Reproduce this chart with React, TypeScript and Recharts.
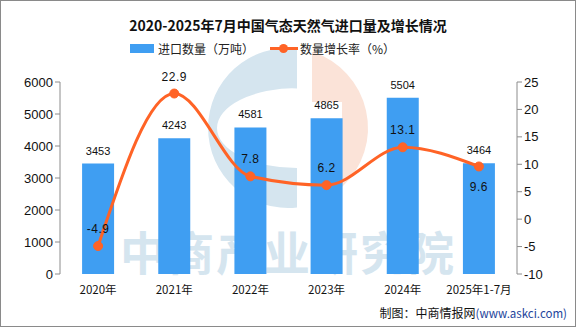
import React from 'react';
import { ComposedChart, Bar, Line, XAxis, YAxis, LabelList } from 'recharts';

const categories = ['2020年', '2021年', '2022年', '2023年', '2024年', '2025年1-7月'];
const importVolume = [3453, 4243, 4581, 4865, 5504, 3464];
const growthRate = [-4.9, 22.9, 7.8, 6.2, 13.1, 9.6];
const rateLabelBelow = [false, false, false, false, false, true];
const leftTicks = [0, 1000, 2000, 3000, 4000, 5000, 6000];
const rightTicks = [-10, -5, 0, 5, 10, 15, 20, 25];
const boundaryTicks = [0, 1, 2, 3, 4, 5, 6];

const title = '2020-2025年7月中国气态天然气进口量及增长情况';
const barName = '进口数量（万吨）';
const lineName = '数量增长率（%）';
const watermark = '中商产业研究院';

const data = categories.map((c, i) => ({ name: c, volume: importVolume[i], rate: growthRate[i] }));

const BAR = '#3f9ef2';
const LINE = '#ff6326';
const AXIS = '#8c8c8c';
const FONT = '"Liberation Sans", "Noto Sans CJK SC", sans-serif';

const RateLabel = (props: any) => {
  const { x, y, value, index } = props;
  const below = rateLabelBelow[index];
  return (
    <text
      x={x}
      y={below ? y + 25 : y - 13}
      textAnchor="middle"
      fontSize={12}
      fill="#111"
      fontFamily={FONT}
      letterSpacing={0.5}
    >
      {value}
    </text>
  );
};

export default function App() {
  return (
    <div
      style={{
        position: 'absolute',
        left: 0,
        top: 0,
        width: 576,
        height: 327,
        boxSizing: 'border-box',
        border: '1px solid #8a8a8a',
        background: '#fff',
        fontFamily: FONT,
        overflow: 'hidden',
      }}
    >
      <svg width={576} height={327} style={{ position: 'absolute', left: -1, top: -1 }}>
        <path
          d="M297,48.5 A80,80 0 1 0 297,207.5 Z M297,88 A80,40 0 1 0 297,168 Z"
          fill="#d5e5ef"
          fillRule="evenodd"
        />
        <path d="M312,51.7 A80,80 0 0 1 342,187 L342,102 L312,102 Z" fill="#fbe3d8" />
        <text
          x={288}
          y={270}
          textAnchor="middle"
          fontSize={46}
          fontWeight={700}
          fill="#d5e5ef"
          fontFamily='"Noto Sans CJK SC", sans-serif'
          letterSpacing={2}
        >
          {watermark}
        </text>
      </svg>
      <div
        style={{
          position: 'absolute',
          left: -1,
          top: 14,
          width: 576,
          textAlign: 'center',
          fontSize: 14,
          fontWeight: 700,
          fontFamily: '"Noto Sans CJK SC", sans-serif',
          color: '#111',
          lineHeight: '20px',
        }}
      >
        {title}
      </div>
      <div style={{ position: 'absolute', left: 129, top: 43, width: 24, height: 9, background: BAR }} />
      <div
        style={{
          position: 'absolute',
          left: 157,
          top: 40,
          fontSize: 12,
          lineHeight: '16px',
          color: '#222',
          fontFamily: '"Noto Sans CJK SC", sans-serif',
        }}
      >
        {barName}
      </div>
      <div style={{ position: 'absolute', left: 269, top: 46, width: 28, height: 3, background: LINE }} />
      <div
        style={{
          position: 'absolute',
          left: 278,
          top: 43,
          width: 9,
          height: 9,
          borderRadius: 5,
          background: LINE,
        }}
      />
      <div
        style={{
          position: 'absolute',
          left: 299,
          top: 40,
          fontSize: 12,
          lineHeight: '16px',
          color: '#222',
          fontFamily: '"Noto Sans CJK SC", sans-serif',
        }}
      >
        {lineName}
      </div>
      <div style={{ position: 'absolute', left: -1, top: -1 }}>
        <ComposedChart
          width={576}
          height={327}
          data={data}
          margin={{ top: 82, right: 9, bottom: 23, left: 0 }}
          barCategoryGap="29%"
        >
          <XAxis
            xAxisId="grid"
            type="number"
            dataKey="idx"
            domain={[0, 6]}
            ticks={boundaryTicks}
            tick={false}
            height={0}
            stroke={AXIS}
            tickSize={5}
            allowDataOverflow
          />
          <XAxis
            xAxisId="cat"
            dataKey="name"
            axisLine={false}
            tickLine={false}
            height={30}
            interval={0}
            tick={{ fontSize: 11.5, fill: '#111', fontFamily: '"Noto Sans CJK SC", sans-serif' }}
            tickMargin={6}
          />
          <YAxis
            yAxisId="left"
            orientation="left"
            width={60}
            domain={[0, 6000]}
            ticks={leftTicks}
            interval={0}
            stroke={AXIS}
            tickSize={5}
            tick={{ fontSize: 13, fill: '#111' }}
          />
          <YAxis
            yAxisId="right"
            orientation="right"
            width={50}
            domain={[-10, 25]}
            ticks={rightTicks}
            interval={0}
            stroke={AXIS}
            tickSize={5}
            tick={{ fontSize: 13, fill: '#111' }}
          />
          <Bar xAxisId="cat" yAxisId="left" dataKey="volume" fill={BAR} isAnimationActive={false}>
            <LabelList dataKey="volume" position="top" offset={9} fontSize={11} fill="#111" />
          </Bar>
          <Line
            xAxisId="cat"
            yAxisId="right"
            dataKey="rate"
            type="monotone"
            stroke={LINE}
            strokeWidth={3}
            dot={{ r: 4.5, fill: LINE, stroke: LINE, strokeWidth: 1 }}
            isAnimationActive={false}
          >
            <LabelList dataKey="rate" content={RateLabel} />
          </Line>
        </ComposedChart>
      </div>
      <div
        style={{
          position: 'absolute',
          right: 8,
          top: 304,
          fontSize: 12,
          lineHeight: '16px',
          color: '#111',
          fontFamily: '"Noto Sans CJK SC", sans-serif',
          whiteSpace: 'nowrap',
        }}
      >
        制图：中商情报网<span style={{ color: '#23449b', fontSize: 11.5 }}>(www.askci.com)</span>
      </div>
    </div>
  );
}
